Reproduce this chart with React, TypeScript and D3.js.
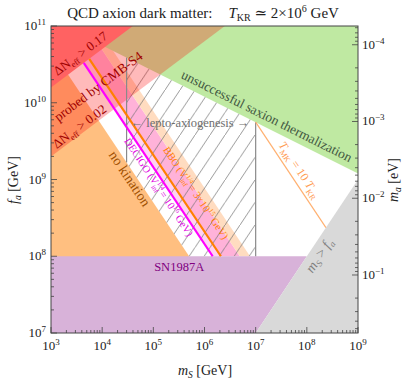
import * as d3 from "d3";

// axes
const xDomain = [1e3, 1e9];
const yDomain = [1e7, 1e11];
const xTickExps = [3, 4, 5, 6, 7, 8, 9];
const yTickExps = [7, 8, 9, 10, 11];
const maTickExps = [-4, -3, -2, -1];
const maTimesFa = 5.7e6; // m_a [eV] * f_a [GeV]

// regions, points are [m_S, f_a] in GeV
const dNeff017 = [[1e3, 1.58e10], [3.98e4, 1e11], [1e3, 1e11]];
const dNeff002 = [[1e3, 2e9], [2.5e6, 1e11], [1e3, 1e11]];
const noThermalization = [[1.74e3, 1e11], [1e9, 1e11], [1e9, 1.2e9]];
const noKination = [[1e3, 5e10], [5e6, 1e7], [1e3, 1e7]];
const sn1987a = [[1e3, 1e7], [1e3, 1e8], [1e8, 1e8], [1e7, 1e7]];
const mSaboveFa = [[1e7, 1e7], [1e9, 1e9], [1e9, 1e7]];
const leptoAxiogenesis = [[3e4, 3.87e10], [1e7, 5.58e9], [1e7, 1e8], [5.01e5, 1e8], [3e4, 1.67e9]];
const decigoBand = [[1445, 1e11], [2090, 1e11], [2.09e6, 1e8], [1.445e6, 1e8]];
const bboBand = [[2090, 1e11], [4900, 1e11], [4.9e6, 1e8], [2.09e6, 1e8]];
const outerBand = [[4900, 1e11], [7760, 1e11], [7.76e6, 1e8], [4.9e6, 1e8]];

// lines
const decigoLine = [[4365, 3.31e10], [1.445e6, 1e8]];
const bboLine = [[5585, 3.74e10], [2.09e6, 1e8]];
const tmkLine = [[1e7, 5.58e9], [2.36e8, 2.36e8]];
const leptoLeft = [[3e4, 3.87e10], [3e4, 1.67e9]];
const leptoRight = [[1e7, 5.58e9], [1e7, 1e8]];

const font = "'Liberation Serif', 'DejaVu Serif', serif";

export default function App() {
  const x = d3.scaleLog().domain(xDomain).range([51, 358]);
  const y = d3.scaleLog().domain(yDomain).range([333, 26]);
  const ma = d3.scaleLog().domain([maTimesFa / yDomain[0], maTimesFa / yDomain[1]]).range([333, 26]);

  const line = d3.line<number[]>().x((d) => x(d[0])).y((d) => y(d[1]));
  const poly = (pts: number[][]) => line(pts) + "Z";
  const angle = (pts: number[][]) =>
    (Math.atan2(y(pts[1][1]) - y(pts[0][1]), x(pts[1][0]) - x(pts[0][0])) * 180) / Math.PI;
  const at = (mS: number, fa: number, rot: number) => `translate(${x(mS)},${y(fa)}) rotate(${rot})`;

  const redAngle = angle([dNeff017[0], dNeff017[1]]);
  const greenAngle = angle([noThermalization[0], noThermalization[2]]);
  const diagAngle = angle(decigoLine);
  const grayAngle = angle([mSaboveFa[0], mSaboveFa[1]]);

  const xMinor = x.ticks().filter((t) => !xTickExps.some((e) => Math.abs(t - 10 ** e) < 1e-6 * t));
  const yMinor = y.ticks().filter((t) => !yTickExps.some((e) => Math.abs(t - 10 ** e) < 1e-6 * t));
  const maMinor = ma.ticks().filter((t) => !maTickExps.some((e) => Math.abs(t - 10 ** e) < 1e-6 * t));

  return (
    <svg width={411} height={382} style={{ display: "block", position: "absolute", left: 0, top: 0 }} fontFamily={font}>
      <defs>
        <clipPath id="plot">
          <rect x={51} y={26} width={307} height={307} />
        </clipPath>
        <pattern id="hatch" width={15} height={22.5} patternUnits="userSpaceOnUse">
          <line x1={-1} y1={24} x2={16} y2={-1.5} stroke="#707070" strokeWidth={0.7} />
        </pattern>
      </defs>

      <g clipPath="url(#plot)">
        <path d={poly(decigoBand)} fill="#ffd2f2" />
        <path d={poly(bboBand)} fill="#ffb2d9" />
        <path d={poly(outerBand)} fill="#ffdcc0" />
        <path d={poly(noKination)} fill="#ffbf80" />
        <path d={poly(noThermalization)} fill="#bfe9a2" />
        <path d={poly(leptoAxiogenesis)} fill="url(#hatch)" />
        <path d={poly(dNeff002)} fill="#ff0000" fillOpacity={0.27} />
        <path d={poly(dNeff017)} fill="#ff6262" />
        <path d={poly(sn1987a)} fill="#d8b2d9" />
        <path d={poly(mSaboveFa)} fill="#d9d9d9" />

        <path d={line(leptoLeft)!} stroke="#8a8a8a" strokeWidth={1.2} fill="none" />
        <path d={line(leptoRight)!} stroke="#8a8a8a" strokeWidth={1.2} fill="none" />
        <path d={line(tmkLine)!} stroke="#ffb070" strokeWidth={1.2} fill="none" />
        <path d={line(decigoLine)!} stroke="#ff00ff" strokeWidth={2.2} fill="none" />
        <path d={line(bboLine)!} stroke="#ff8000" strokeWidth={2.2} fill="none" />
      </g>

      {/* region labels */}
      <g fontSize={13}>
        <text transform={at(4.2e3, 3.95e10, redAngle)} textAnchor="middle" fill="#a00000">
          ΔN<tspan fontSize={8.5} dy={3}>eff</tspan><tspan dy={-3}> {">"} 0.17</tspan>
        </text>
        <text transform={at(9.5e3, 1.47e10, redAngle)} textAnchor="middle" fill="#a00000" fontSize={13.5}>
          probed by CMB-S4
        </text>
        <text transform={at(4.05e3, 4.42e9, redAngle)} textAnchor="middle" fill="#a00000">
          ΔN<tspan fontSize={8.5} dy={3}>eff</tspan><tspan dy={-3}> {">"} 0.02</tspan>
        </text>
        <text transform={at(2.9e4, 9.5e8, diagAngle)} textAnchor="middle" fill="#a05000" fontSize={14}>
          no kination
        </text>
        <text transform={at(1.12e5, 7.5e8, diagAngle)} textAnchor="middle" fill="#e000e0" fontSize={10.5}>
          DECIGO (V<tspan fontSize={7} dy={-4}>1/4</tspan>
          <tspan fontSize={7} dx={-9} dy={7}>inf</tspan>
          <tspan dy={-3}> = 10</tspan>
          <tspan fontSize={7} dy={-4}>16</tspan>
          <tspan dy={4}> GeV)</tspan>
        </text>
        <text transform={at(5.95e5, 6.3e8, diagAngle)} textAnchor="middle" fill="#ff8000" fontSize={10.5}>
          BBO (V<tspan fontSize={7} dy={-4}>1/4</tspan>
          <tspan fontSize={7} dx={-9} dy={7}>inf</tspan>
          <tspan dy={-3}> = 3×10</tspan>
          <tspan fontSize={7} dy={-4}>15</tspan>
          <tspan dy={4}> GeV)</tspan>
        </text>
        <text x={x(5.2e5)} y={y(4.9e9)} textAnchor="middle" fill="#6e6e6e" fontSize={12.5}>
          ← lepto-axiogenesis →
        </text>
        <text transform={at(1.5e7, 5.96e9, greenAngle)} textAnchor="middle" fill="#3f573f" fontSize={13.5}>
          unsuccessful saxion thermalization
        </text>
        <text transform={at(6.2e7, 1.25e9, diagAngle)} textAnchor="middle" fill="#ff9a50" fontSize={12}>
          <tspan fontStyle="italic">T</tspan>
          <tspan fontSize={8} dy={3}>MK</tspan>
          <tspan dy={-3}> = 10 </tspan>
          <tspan fontStyle="italic">T</tspan>
          <tspan fontSize={8} dy={3}>KR</tspan>
        </text>
        <text x={x(3.2e5)} y={y(6.5e7)} textAnchor="middle" fill="#800080" fontSize={12.5}>
          SN1987A
        </text>
        <text transform={at(2.07e8, 9.5e7, grayAngle)} textAnchor="middle" fill="#808080" fontSize={14}>
          <tspan fontStyle="italic">m</tspan>
          <tspan fontSize={9} dy={3} fontStyle="italic">S</tspan>
          <tspan dy={-3}> {">"} </tspan>
          <tspan fontStyle="italic">f</tspan>
          <tspan fontSize={9} dy={3} fontStyle="italic">a</tspan>
        </text>
      </g>

      {/* frame and ticks */}
      <rect x={51} y={26} width={307} height={307} fill="none" stroke="#444" strokeWidth={1} />
      <g stroke="#444" strokeWidth={0.8}>
        {xTickExps.map((e) => (
          <line key={"xt" + e} x1={x(10 ** e)} x2={x(10 ** e)} y1={333} y2={327} />
        ))}
        {xMinor.map((t, i) => (
          <line key={"xm" + i} x1={x(t)} x2={x(t)} y1={333} y2={330} />
        ))}
        {yTickExps.map((e) => (
          <line key={"yt" + e} x1={51} x2={57} y1={y(10 ** e)} y2={y(10 ** e)} />
        ))}
        {yMinor.map((t, i) => (
          <line key={"ym" + i} x1={51} x2={54} y1={y(t)} y2={y(t)} />
        ))}
        {maTickExps.map((e) => (
          <line key={"mt" + e} x1={358} x2={352} y1={ma(10 ** e)} y2={ma(10 ** e)} />
        ))}
        {maMinor.map((t, i) => (
          <line key={"mm" + i} x1={358} x2={355} y1={ma(t)} y2={ma(t)} />
        ))}
      </g>

      <g fontSize={13} fill="#222">
        {xTickExps.map((e) => (
          <text key={"xl" + e} x={x(10 ** e)} y={350} textAnchor="middle">
            10<tspan fontSize={9} dy={-5}>{e}</tspan>
          </text>
        ))}
        {yTickExps.map((e) => (
          <text key={"yl" + e} x={46} y={y(10 ** e) + 4} textAnchor="end">
            10<tspan fontSize={9} dy={-5}>{e}</tspan>
          </text>
        ))}
        {maTickExps.map((e) => (
          <text key={"ml" + e} x={362} y={ma(10 ** e) + 4}>
            10<tspan fontSize={9} dy={-5}>{"\u2212" + Math.abs(e)}</tspan>
          </text>
        ))}
      </g>

      {/* axis titles */}
      <g fontSize={14} fill="#222">
        <text x={205} y={375} textAnchor="middle">
          <tspan fontStyle="italic">m</tspan>
          <tspan fontSize={9.5} dy={3} fontStyle="italic">S</tspan>
          <tspan dy={-3}> [GeV]</tspan>
        </text>
        <text transform="translate(18,180) rotate(-90)" textAnchor="middle">
          <tspan fontStyle="italic">f</tspan>
          <tspan fontSize={9.5} dy={3} fontStyle="italic">a</tspan>
          <tspan dy={-3}> [GeV]</tspan>
        </text>
        <text transform="translate(398,180) rotate(-90)" textAnchor="middle">
          <tspan fontStyle="italic">m</tspan>
          <tspan fontSize={9.5} dy={3} fontStyle="italic">a</tspan>
          <tspan dy={-3}> [eV]</tspan>
        </text>
        <text x={203} y={18} textAnchor="middle" fontSize={15}>
          QCD axion dark matter:
          <tspan dx={16} fontStyle="italic">T</tspan>
          <tspan fontSize={10} dy={3}>KR</tspan>
          <tspan dy={-3}> ≃ 2×10</tspan>
          <tspan fontSize={10} dy={-6}>6</tspan>
          <tspan dy={6}> GeV</tspan>
        </text>
      </g>
    </svg>
  );
}
